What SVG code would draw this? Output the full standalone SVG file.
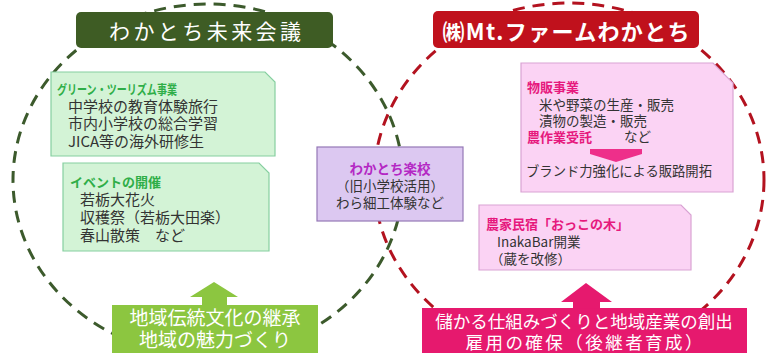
<svg xmlns="http://www.w3.org/2000/svg" width="767" height="353" viewBox="0 0 767 353">
<style>
text{font-family:"Noto Sans CJK JP","Noto Sans",sans-serif;fill:#333}
.ring{fill:none;stroke-width:3;stroke-dasharray:12 8}
.gbox{fill:#d3f3d6;stroke:#86cfa0;stroke-width:1.2}
.pbox{fill:#fbd3f4;stroke:#d9a3d3;stroke-width:1.2}
.vbox{fill:#dcc8f1;stroke:#9478b6;stroke-width:1.2}
.gh{fill:#2fae48;font-weight:bold;font-size:13px}
.ph{fill:#e6197d;font-weight:bold;font-size:13px}
.vh{fill:#b428c4;font-weight:bold;font-size:13.5px}
.b15{font-size:15px}
.b14{font-size:13.5px}
.w{fill:#fff}
</style>
<rect width="767" height="353" fill="#fff"/>
<g id="circles">
<ellipse class="ring" cx="208" cy="180" rx="195" ry="176" stroke="#3c5a2c"/>
<ellipse class="ring" cx="569" cy="180" rx="195" ry="177" stroke="#b3121f"/>
</g>
<g id="title-wakatochi">
<rect x="76" y="12" width="257" height="36" rx="5" fill="#3e5c24"/>
<text class="w" x="205" y="39" font-size="21" text-anchor="middle" textLength="192" lengthAdjust="spacing">わかとち未来会議</text>
</g>
<g id="title-mtfarm">
<rect x="433" y="11" width="266" height="37" rx="5" fill="#c0111c"/>
<text class="w" x="566" y="40" font-size="22" font-weight="bold" text-anchor="middle" textLength="247" lengthAdjust="spacing">㈱Mt.ファームわかとち</text>
</g>
<g id="green-tourism">
<path class="gbox" d="M51,72 H265 L275,82 V156 H51 Z"/>
<text class="gh" x="57" y="94" font-size="14" textLength="120" lengthAdjust="spacingAndGlyphs">グリーン・ツーリズム事業</text>
<text class="b15" x="68" y="112">中学校の教育体験旅行</text>
<text class="b15" x="68" y="129">市内小学校の総合学習</text>
<text class="b15" x="68" y="147">JICA等の海外研修生</text>
</g>
<g id="events">
<path class="gbox" d="M63,163 H259 L269,173 V251 H63 Z"/>
<text class="gh" x="70" y="187">イベントの開催</text>
<text class="b15" x="80" y="205">若栃大花火</text>
<text class="b15" x="80" y="223">収穫祭（若栃大田楽）</text>
<text class="b15" x="80" y="241">春山散策　など</text>
</g>
<g id="gakko">
<rect class="vbox" x="317" y="147" width="146" height="74"/>
<text class="vh" x="390" y="174" text-anchor="middle">わかとち楽校</text>
<text class="b14" x="390" y="191" text-anchor="middle">（旧小学校活用）</text>
<text class="b14" x="390" y="208" text-anchor="middle">わら細工体験など</text>
</g>
<g id="buppan">
<path class="pbox" d="M521,63 H713 L733,83 V192 H521 Z"/>
<text class="ph" x="527" y="92">物販事業</text>
<text class="b14" x="539" y="110">米や野菜の生産・販売</text>
<text class="b14" x="539" y="126">漬物の製造・販売</text>
<text class="ph" x="527" y="142">農作業受託</text>
<text class="b14" x="624" y="142">など</text>
<text class="b14" x="526" y="176" textLength="186" lengthAdjust="spacingAndGlyphs">ブランド力強化による販路開拓</text>
</g>
<g id="minshuku">
<path class="pbox" d="M479,205 H681 L691,215 V270 H479 Z"/>
<text class="ph" x="486" y="229">農家民宿「おっこの木」</text>
<text class="b14" x="497" y="247">InakaBar開業</text>
<text class="b14" x="490" y="264">（蔵を改修）</text>
</g>
<g id="bottom-green">
<rect x="112" y="305" width="206" height="55" fill="#8cc640"/>
<text class="w" x="215" y="325" font-size="19" text-anchor="middle">地域伝統文化の継承</text>
<text class="w" x="215" y="347" font-size="19" text-anchor="middle">地域の魅力づくり</text>
</g>
<g id="bottom-pink">
<rect x="422" y="308" width="325" height="50" fill="#e6196e"/>
<text class="w" x="584" y="328" font-size="17.5" text-anchor="middle">儲かる仕組みづくりと地域産業の創出</text>
<text class="w" x="584" y="348.5" font-size="17.5" text-anchor="middle" textLength="237" lengthAdjust="spacing">雇用の確保（後継者育成）</text>
</g>
<g id="connectors">
<polygon points="214,282 238,297 227,297 227,305.5 202,305.5 202,297 190,297" fill="#8cc640"/>
<polygon points="586,283 612,302 600,302 600,308.5 573,308.5 573,302 561,302" fill="#e6196e"/>
<polygon points="590,149 642,149 642,154 616,162 590,154" fill="#ee2f8a"/>
</g>
</svg>
